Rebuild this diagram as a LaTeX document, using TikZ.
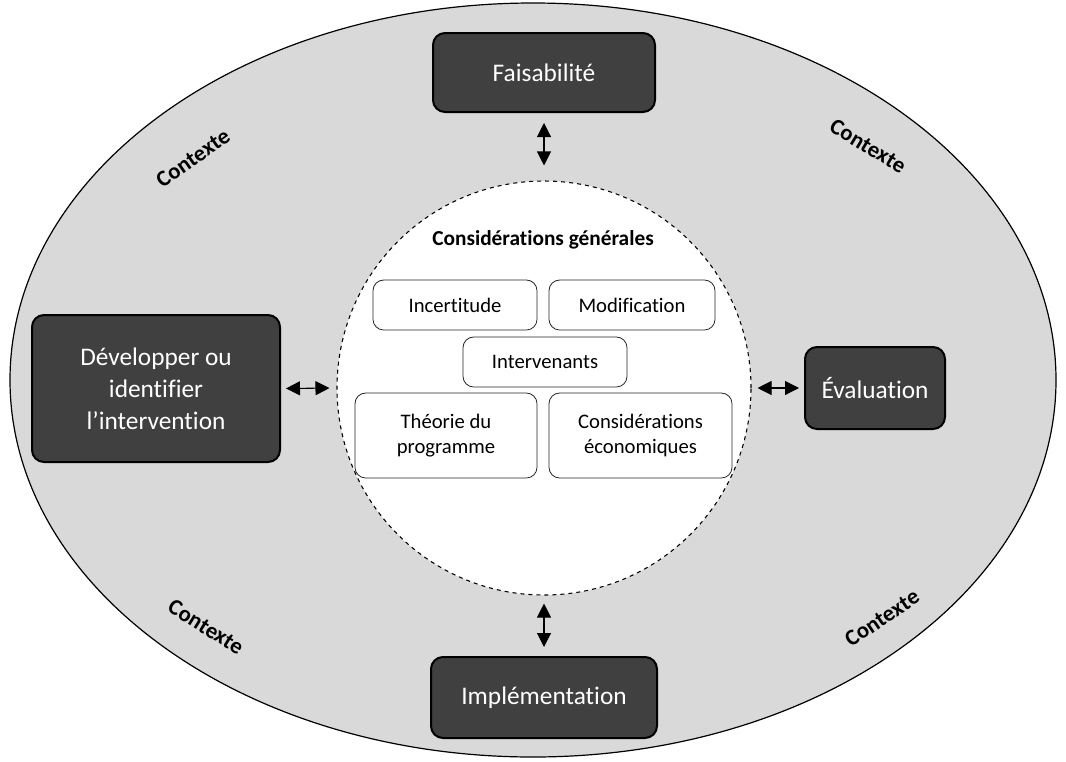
\documentclass[tikz,border=0pt]{standalone}
\usepackage{fontspec}
\setmainfont[Ligatures=NoCommon]{Carlito}
\usetikzlibrary{arrows.meta}
\definecolor{ctxgray}{HTML}{D9D9D9}
\definecolor{darkbox}{HTML}{404040}
\begin{document}
\begin{tikzpicture}[x=0.75pt,y=-0.75pt,
  mainbox/.style={draw=black, line width=1.5pt, fill=darkbox, rounded corners=9pt, text=white,
    font=\fontsize{19}{24}\selectfont, align=center, inner sep=0pt},
  subbox/.style={draw=black!85, line width=0.6pt, fill=white, rounded corners=8pt,
    font=\fontsize{15.5}{19}\selectfont, align=center, inner sep=0pt},
  ctx/.style={font=\bfseries\fontsize{17}{19}\selectfont},
  biarrow/.style={{Triangle[length=10.5pt,width=10.5pt]}-{Triangle[length=10.5pt,width=10.5pt]}, line width=0.8pt}
]
\useasboundingbox (0,0) rectangle (1066,761);
% outer context ellipse
\path[draw=black, line width=0.9pt, fill=ctxgray] (533,380) ellipse [x radius=523, y radius=377];
% inner dashed circle
\node[draw=black, dashed, line width=0.8pt, fill=white, circle, minimum size=414*0.75pt, inner sep=0pt] (gen) at (544,388) {};
\node[font=\bfseries\fontsize{16}{18}\selectfont] (title) at (543,240) {Considérations générales};
% sub boxes
\node[subbox, minimum width=164*0.75pt, minimum height=50*0.75pt] (inc) at (455,305) {Incertitude};
\node[subbox, minimum width=166*0.75pt, minimum height=50*0.75pt] (mod) at (632,305) {Modification};
\node[subbox, minimum width=164*0.75pt, minimum height=50*0.75pt] (int) at (545,362) {Intervenants};
\node[subbox, minimum width=182*0.75pt, minimum height=85*0.75pt] (theo) at (446,435.5) {Théorie du\\programme};
\node[subbox, minimum width=183*0.75pt, minimum height=85*0.75pt] (eco) at (640.5,435.5) {Considérations\\économiques};
% main boxes
\node[mainbox, minimum width=222*0.75pt, minimum height=79*0.75pt] (fais) at (544,72.5) {Faisabilité};
\node[mainbox, minimum width=226*0.75pt, minimum height=81*0.75pt] (impl) at (544,697.5) {Implémentation};
\node[mainbox, minimum width=248*0.75pt, minimum height=147*0.75pt] (dev) at (156,388.5) {Développer ou\\identifier\\l’intervention};
\node[mainbox, minimum width=140*0.75pt, minimum height=82*0.75pt] (eval) at (875,388) {Évaluation};
% arrows
\draw[biarrow, shorten <=10*0.75pt, shorten >=15*0.75pt] (fais.south) -- (gen.north);
\draw[biarrow, shorten <=8*0.75pt, shorten >=9*0.75pt] (gen.south) -- (impl.north);
\draw[biarrow, shorten <=5*0.75pt, shorten >=7*0.75pt] (dev.east) -- (gen.west);
\draw[biarrow, shorten <=6*0.75pt, shorten >=5*0.75pt] (gen.east) -- (eval.west);
% context labels
\node[ctx, rotate=35] (c1) at (193,158) {Contexte};
\node[ctx, rotate=-31] (c2) at (868,146) {Contexte};
\node[ctx, rotate=-32] (c3) at (206,627) {Contexte};
\node[ctx, rotate=34] (c4) at (882,618) {Contexte};
\end{tikzpicture}
\end{document}
